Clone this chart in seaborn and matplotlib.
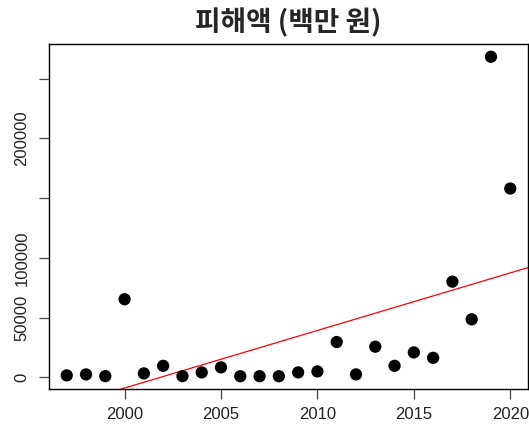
import numpy as np
import pandas as pd
import seaborn as sns
import matplotlib
matplotlib.use("Agg")
import matplotlib.pyplot as plt

# Annual damage amount (million KRW)
years = [1997, 1998, 1999, 2000, 2001, 2002, 2003, 2004, 2005, 2006, 2007, 2008,
         2009, 2010, 2011, 2012, 2013, 2014, 2015, 2016, 2017, 2018, 2019, 2020]
damage = [1700, 2500, 1100, 65400, 3350, 9700, 1100, 4200, 8400, 1000, 1000, 1000,
          4200, 5000, 29600, 2500, 25700, 9700, 20900, 16400, 80100, 48600, 268200, 158000]

x_ticks = [2000, 2005, 2010, 2015, 2020]
y_ticks = [0, 50000, 100000, 150000, 200000, 250000]
y_tick_labels = ["0", "50000", "100000", "", "200000", ""]
title = "피해액 (백만 원)"

df = pd.DataFrame({"year": years, "damage": damage})

sns.set_theme(style="ticks")
plt.rcParams["font.family"] = ["Liberation Sans", "DejaVu Sans"]

W, H = 529, 425
fig = plt.figure(figsize=(W / 100, H / 100), dpi=100)
ax = fig.add_axes([49 / W, 1 - 389 / H, (528 - 49) / W, (389 - 44) / H])

# base-R style 4% padding around the data range
def padded(lo, hi):
    r = hi - lo
    return lo - 0.04 * r, hi + 0.04 * r

xlim = padded(min(years), max(years))
ylim = padded(min(damage), max(damage))
ax.set_xlim(*xlim)
ax.set_ylim(*ylim)

sns.regplot(data=df, x="year", y="damage", ax=ax, scatter=False, ci=None,
            truncate=False, line_kws={"color": "red", "lw": 0.9})
sns.scatterplot(data=df, x="year", y="damage", ax=ax, color="black",
                s=78, edgecolor="none", zorder=3)
ax.set_xlim(*xlim)
ax.set_ylim(*ylim)

ax.set_xticks(x_ticks)
ax.set_yticks(y_ticks)
ax.set_yticklabels(y_tick_labels, rotation=90, va="center")
ax.set_xlabel("")
ax.set_ylabel("")
ax.tick_params(axis="both", length=7, width=0.9, color="#444444",
               labelsize=12, labelcolor="#222222", direction="out")
ax.tick_params(axis="x", pad=6)
ax.tick_params(axis="y", pad=7)
for s in ax.spines.values():
    s.set_visible(True)
    s.set_color("black")
    s.set_linewidth(1.0)

fig.text(288.5 / W, 1 - 23 / H, title, ha="center", va="center",
         fontsize=20, fontweight="bold",
         family=["Noto Sans CJK KR", "DejaVu Sans"])

fig.savefig("out.png", dpi=100)
